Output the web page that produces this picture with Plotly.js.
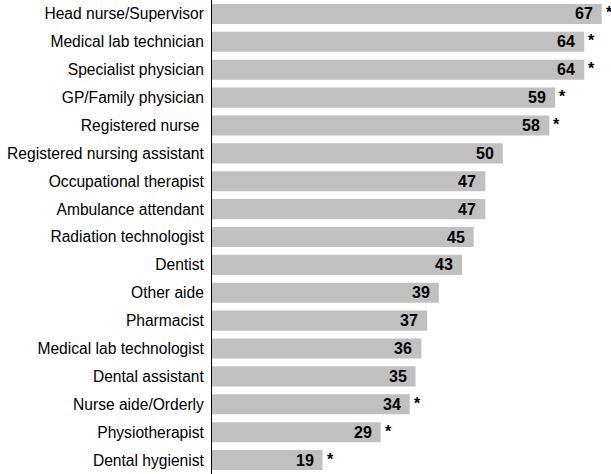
<!DOCTYPE html>
<html>
<head>
<meta charset="utf-8">
<script src="https://cdn.plot.ly/plotly-3.0.1.min.js"></script>
<style>html,body{margin:0;padding:0;background:#fff;}#chart{width:611px;height:474px;}</style>
</head>
<body>
<div id="chart"></div>
<script>
const categories = ["Head nurse/Supervisor","Medical lab technician","Specialist physician","GP/Family physician","Registered nurse\u00a0","Registered nursing assistant","Occupational therapist","Ambulance attendant","Radiation technologist","Dentist","Other aide","Pharmacist","Medical lab technologist","Dental assistant","Nurse aide/Orderly","Physiotherapist","Dental hygienist"];
const values = [67,64,64,59,58,50,47,47,45,43,39,37,36,35,34,29,19];
const significant = [true,true,true,true,true,false,false,false,false,false,false,false,false,false,true,true,true];

const FONT = "Liberation Sans, Arial, sans-serif";

const annotations = [];
categories.forEach((c,i)=>{
  annotations.push({x: values[i], y: c, xref:'x', yref:'y', text: '<b>'+values[i]+'</b>', showarrow:false, xanchor:'right', xshift:-7, font:{family:FONT,size:16,color:'#000'}});
  if (significant[i]) annotations.push({x: values[i], y: c, xref:'x', yref:'y', text: '<b>*</b>', showarrow:false, xanchor:'left', xshift:2, yshift:1, font:{family:FONT,size:16,color:'#000'}});
});

Plotly.newPlot('chart', [{
  type:'bar', orientation:'h', x: values, y: categories,
  marker:{color:'#c0c0c0', line:{width:0}}, hoverinfo:'none', cliponaxis:false
}], {
  width:611, height:474,
  margin:{l:212, r:0, t:0, b:0},
  bargap:0.28,
  showlegend:false,
  paper_bgcolor:'#fff', plot_bgcolor:'#fff',
  xaxis:{range:[0,68.6], showgrid:false, zeroline:false, showticklabels:false, showline:false, fixedrange:true},
  yaxis:{autorange:'reversed', showgrid:false, zeroline:false, showline:true, linecolor:'#000', linewidth:1, ticks:'', ticklabelstandoff:4, tickfont:{family:FONT, size:15.6, color:'#000'}},
  annotations: annotations
}, {staticPlot:true});
</script>
</body>
</html>
